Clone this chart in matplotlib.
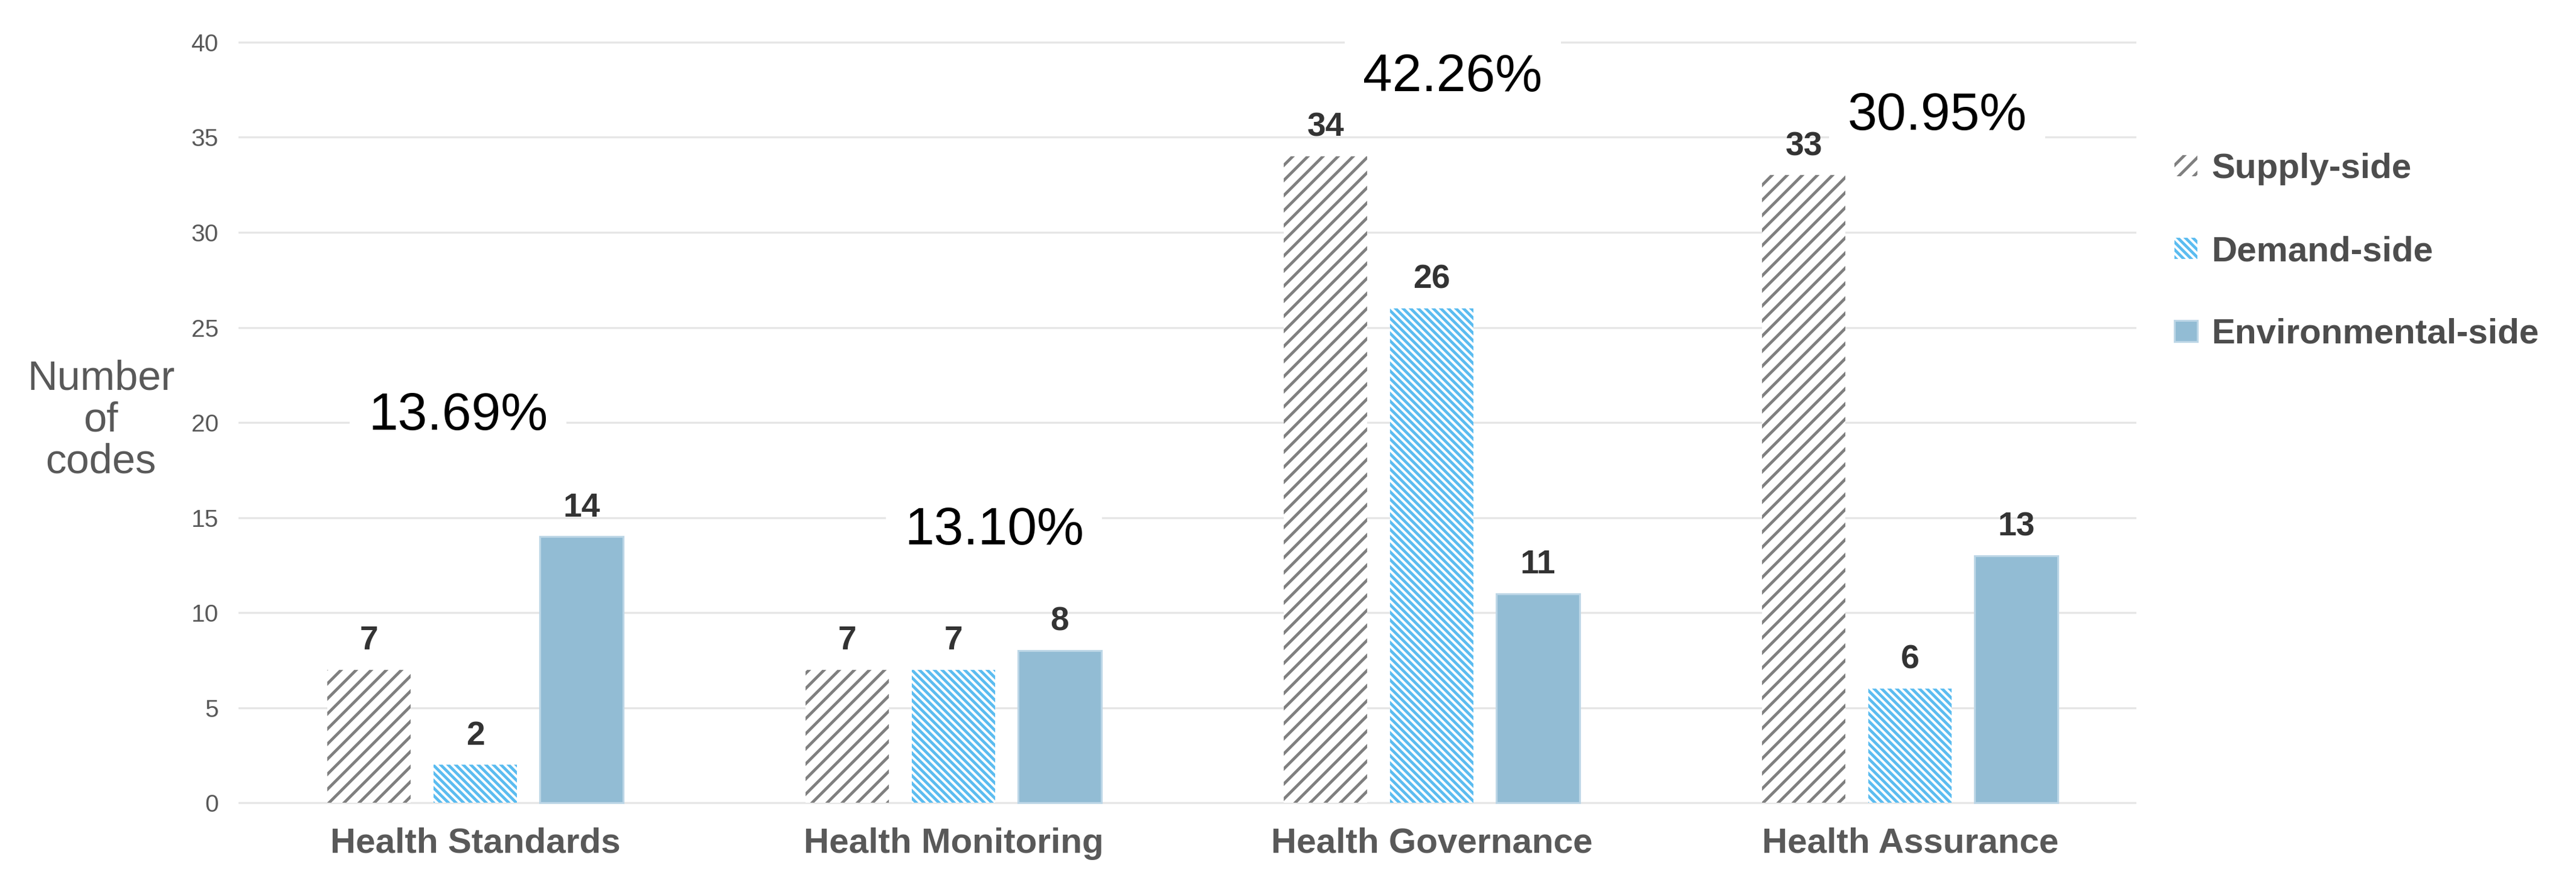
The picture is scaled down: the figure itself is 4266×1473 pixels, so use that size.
import matplotlib
matplotlib.use("Agg")
import matplotlib.pyplot as plt
import numpy as np

plt.rcParams['font.family'] = ['Liberation Sans', 'DejaVu Sans']
plt.rcParams['hatch.linewidth'] = 2.3

# datos del grafico
categorias = ["Health Standards", "Health Monitoring", "Health Governance", "Health Assurance"]
series = ["Supply-side", "Demand-side", "Environmental-side"]
supply = [7, 7, 34, 33]
demand = [2, 7, 26, 6]
environmental = [14, 8, 11, 13]
porcentajes = ["13.69%", "13.10%", "42.26%", "30.95%"]

# donde va cada porcentaje (x, y en unidades de datos)
pos_pct = [(-0.036, 20.35), (1.085, 14.3), (2.044, 38.15), (3.057, 36.1)]

fig = plt.figure(figsize=(28.44, 9.82), dpi=150)
ax = fig.add_axes([0.0926, 0.0906, 0.7367, 0.8726])

x = np.arange(len(categorias))
ancho = 0.174
paso = 0.222

estilos = [
    dict(facecolor="white", edgecolor="#7f7f7f", hatch="//", linewidth=0),
    dict(facecolor="white", edgecolor="#5bbcf0", hatch="\\\\\\\\", linewidth=0),
    dict(facecolor="#92bcd4", edgecolor="#bcd6e6", linewidth=1.5),
]
valores = [supply, demand, environmental]

barras = []
for i, (vals, est) in enumerate(zip(valores, estilos)):
    b = ax.bar(x + (i - 1) * paso, vals, ancho, label=series[i], **est)
    barras.append(b)
    for xi, v in zip(x + (i - 1) * paso, vals):
        ax.annotate(str(v), (xi, v), xytext=(0, 16), textcoords="offset points",
                    ha="center", va="baseline", fontsize=26.5, fontweight="bold",
                    color="#333333")

for txt, (px, py) in zip(porcentajes, pos_pct):
    ax.text(px, py, txt, ha="center", va="center", fontsize=42, color="black",
            zorder=5, bbox=dict(boxstyle="square,pad=0.35", facecolor="white",
                                edgecolor="none"))

ax.set_xlim(-0.495, 3.473)
ax.set_ylim(-0.3, 40.5)
ax.set_yticks(np.arange(0, 41, 5))
ax.set_xticks(x)
ax.set_xticklabels(categorias, fontsize=28, fontweight="bold", color="#595959")
ax.tick_params(axis="x", length=0, pad=15)
ax.tick_params(axis="y", length=0, pad=16, labelsize=19.5, labelcolor="#595959")

ax.yaxis.grid(True, color="#e6e6e6", linewidth=1.6)
ax.set_axisbelow(True)
for s in ax.spines.values():
    s.set_visible(False)

ax.set_ylabel("Number\nof\ncodes", rotation=0, fontsize=33, color="#595959",
              ha="center", va="center", linespacing=1.1)
ax.yaxis.set_label_coords(-0.0725, 0.50)

leg = fig.legend(handles=barras, loc="center left", bbox_to_anchor=(0.8441, 0.7169),
                 frameon=False, borderpad=0, borderaxespad=0, handlelength=0.65,
                 handleheight=0.55, handletextpad=0.4, labelspacing=1.42,
                 prop=dict(size=28, weight="bold"))
for t in leg.get_texts():
    t.set_color("#4d4d4d")

fig.savefig("out.png", dpi=150, facecolor="white")
